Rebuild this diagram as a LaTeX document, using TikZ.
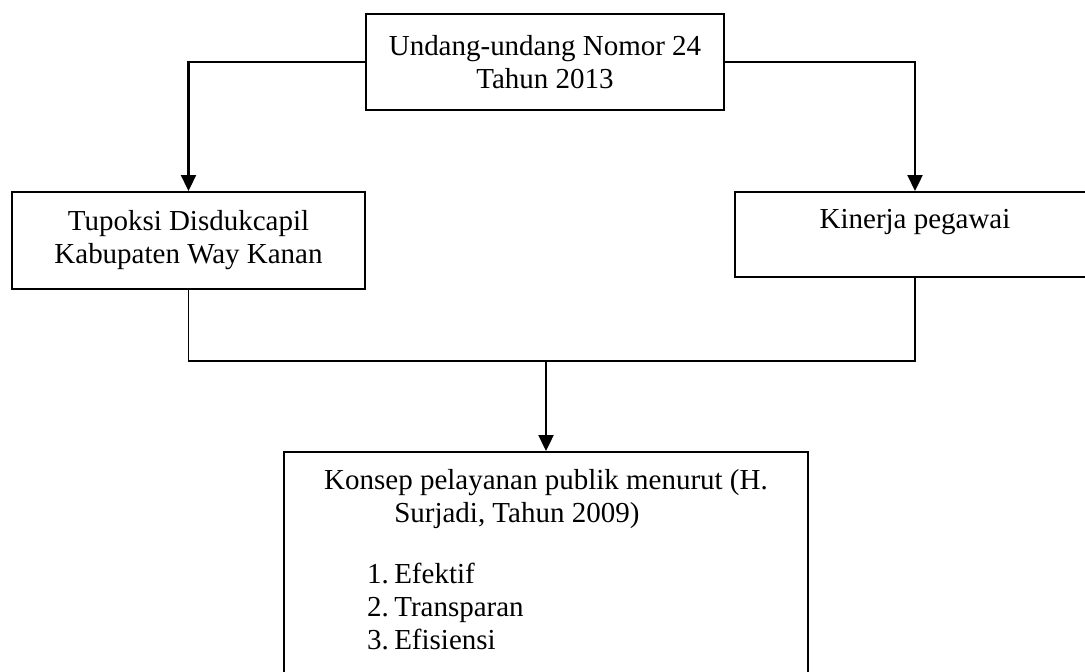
\documentclass[tikz,border=0pt]{standalone}
\usepackage{fontspec}
\setmainfont{Liberation Serif}
\usetikzlibrary{arrows.meta}
\newcommand{\butir}[2]{\hspace*{17.8pt}\makebox[11.2pt][l]{#1}#2}

\begin{document}
\begin{tikzpicture}[x=0.414pt,y=-0.414pt,
  kotak/.style={draw,rectangle,line width=0.8pt,align=center,font=\fontsize{12}{13.66}\selectfont},
  panah/.style={-{Triangle[length=6.6pt,width=6.2pt]},line width=0.9pt},
  garis/.style={line width=0.8pt}]
\useasboundingbox (0,0) rectangle (1085,671);
\node[kotak,minimum width=148.2pt,minimum height=39.7pt] (uu) at (545,62) {Undang-undang Nomor 24\\Tahun 2013};
\node[kotak,minimum width=146.1pt,minimum height=40.2pt] (tupoksi) at (188.5,240.5) {Tupoksi Disdukcapil\\Kabupaten Way Kanan};
\node[kotak,minimum width=149pt,inner ysep=0pt,text height=15.3pt,text depth=19.9pt,anchor=north] (kinerja) at (915,191) {Kinerja pegawai};
\node[kotak,align=left,minimum width=216.9pt,inner ysep=5.8pt,anchor=north] (konsep) at (546,451) {\strut Konsep pelayanan publik menurut (H.\\ \hspace*{29pt}Surjadi, Tahun 2009)\\[11.6pt] \butir{1.}{Efektif}\\ \butir{2.}{Transparan}\\ \butir{3.}{Efisiensi}\\ \mbox{}};
\coordinate (temu) at (546,361);
\draw[panah] (uu.west) -| (tupoksi.north);
\draw[panah] (uu.east) -| (kinerja.north);
\draw[garis] (tupoksi.south) |- (temu) -| (kinerja.south);
\draw[panah] (temu) -- (konsep.north);
\end{tikzpicture}
\end{document}
